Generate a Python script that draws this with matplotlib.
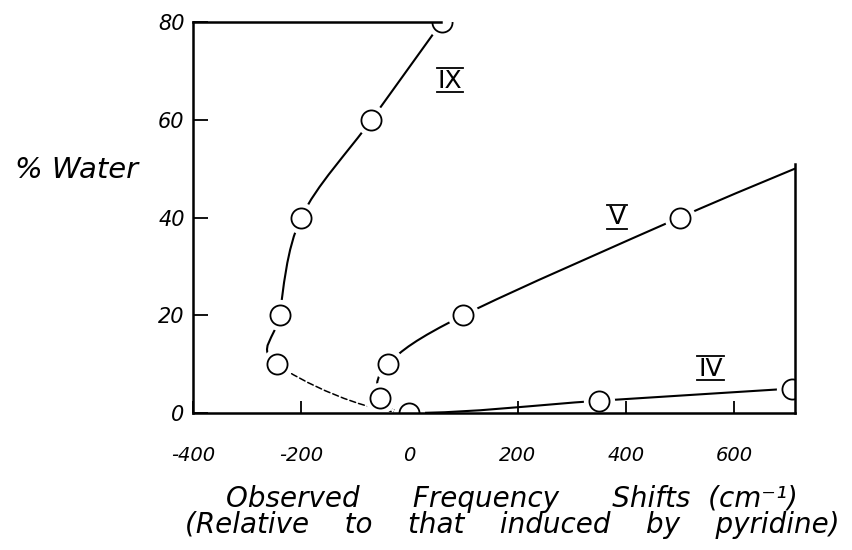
import matplotlib
matplotlib.use("Agg")
import matplotlib.pyplot as plt
from matplotlib.path import Path
from matplotlib.patches import PathPatch
from matplotlib.lines import Line2D

# ---- data ----
# curve IX (drawn line passes from origin through the points)
ix_x = [0, -245, -240, -200, -70, 60]
ix_y = [0, 10, 20, 40, 60, 80]
ix_styles = ["--", "-", "-", "-", "-"]
ix_mark_x = [-245, -240, -200, -70, 60]
ix_mark_y = [10, 20, 40, 60, 80]

# curve V
v_x = [0, -55, -40, 100, 500, 713]
v_y = [0, 3, 10, 20, 40, 50]
v_styles = ["--", "-", "-", "-", "-"]
v_mark_x = [-55, -40, 100, 500]
v_mark_y = [3, 10, 20, 40]

# curve IV
iv_x = [0, 350, 707]
iv_y = [0, 2.5, 5]
iv_styles = ["-", "-"]
iv_mark_x = [0, 350, 707]
iv_mark_y = [0, 2.5, 5]

xticks = [-400, -200, 0, 200, 400, 600]
xtick_labels = ["-400", "-200", "0", "200", "400", "600"]
yticks = [0, 20, 40, 60, 80]
ytick_labels = ["0", "20", "40", "60", "80"]

curve_names = ["IX", "V", "IV"]
name_x = [75, 384, 557]
name_y = [68, 40, 9]

FONT = "DejaVu Sans"

fig = plt.figure(figsize=(8.52, 5.5), dpi=100)
ax = fig.add_axes([193 / 852, 1 - 413 / 550, (795 - 193) / 852, (413 - 22) / 550])
ax.set_xlim(-400, 713)
ax.set_ylim(0, 80)


def catmull(xs, ys):
    pts = list(zip(xs, ys))
    ext = [pts[0]] + pts + [pts[-1]]
    segs = []
    for i in range(1, len(ext) - 2):
        p0, p1, p2, p3 = ext[i - 1], ext[i], ext[i + 1], ext[i + 2]
        c1 = (p1[0] + (p2[0] - p0[0]) / 6, p1[1] + (p2[1] - p0[1]) / 6)
        c2 = (p2[0] - (p3[0] - p1[0]) / 6, p2[1] - (p3[1] - p1[1]) / 6)
        if i == 1:
            # start flat (horizontal tangent) at the origin
            c1 = (p1[0] + (p2[0] - p1[0]) / 3, p1[1])
        segs.append([p1, c1, c2, p2])
    return segs


def draw_curve(xs, ys, styles):
    for seg, ls in zip(catmull(xs, ys), styles):
        path = Path(seg, [Path.MOVETO, Path.CURVE4, Path.CURVE4, Path.CURVE4])
        lw = 1.1 if ls == "--" else 1.5
        dash = (0, (4, 2)) if ls == "--" else "-"
        ax.add_patch(PathPatch(path, facecolor="none", edgecolor="black",
                               lw=lw, linestyle=dash, zorder=2, capstyle="round"))


draw_curve(ix_x, ix_y, ix_styles)
draw_curve(v_x, v_y, v_styles)
draw_curve(iv_x, iv_y, iv_styles)

for mx, my in [(ix_mark_x, ix_mark_y), (v_mark_x, v_mark_y), (iv_mark_x, iv_mark_y)]:
    ax.plot(mx, my, "o", ms=14.5, mfc="white", mec="white", mew=8, zorder=3)
    ax.plot(mx, my, "o", ms=14.5, mfc="white", mec="black", mew=1.3, zorder=4)

# spines
for sp in ax.spines.values():
    sp.set_linewidth(1.8)
    sp.set_zorder(6)
ax.spines["top"].set_bounds(-400, 58)
ax.spines["right"].set_bounds(0, 51)

ax.set_xticks(xticks, xtick_labels, fontsize=14, fontstyle="oblique", family=FONT)
ax.set_yticks(yticks, ytick_labels, fontsize=15, fontstyle="oblique", family=FONT)
ax.tick_params(axis="x", direction="in", length=9, width=1.3, pad=24)
ax.tick_params(axis="y", direction="in", length=11, width=1.3, pad=6)

ax.set_ylabel("% Water", rotation=0, ha="left", va="center", fontsize=21,
              fontstyle="oblique", family=FONT)
ax.yaxis.set_label_coords(-0.296, 0.621)
ax.set_xlabel("Observed      Frequency      Shifts  (cm⁻¹)\n"
              "(Relative    to    that    induced    by    pyridine)",
              fontsize=20, fontstyle="oblique", family=FONT, linespacing=0.9,
              ha="center", va="top")
ax.xaxis.set_label_coords(0.53, -0.185)

texts = []
for name, tx, ty in zip(curve_names, name_x, name_y):
    texts.append(ax.text(tx, ty, name, fontsize=18, ha="center", va="center",
                         family=FONT, zorder=7))

fig.canvas.draw()
renderer = fig.canvas.get_renderer()
inv = fig.transFigure.inverted()
for t in texts:
    bb = t.get_window_extent(renderer)
    (x0, y0), (x1, y1) = inv.transform([(bb.x0 - 1, bb.y0 + 1), (bb.x1 + 1, bb.y1 + 1)])
    for yy in (y0, y1):
        fig.add_artist(Line2D([x0, x1], [yy, yy], color="black", lw=1.3,
                              transform=fig.transFigure))

fig.savefig("out.png", dpi=100)
